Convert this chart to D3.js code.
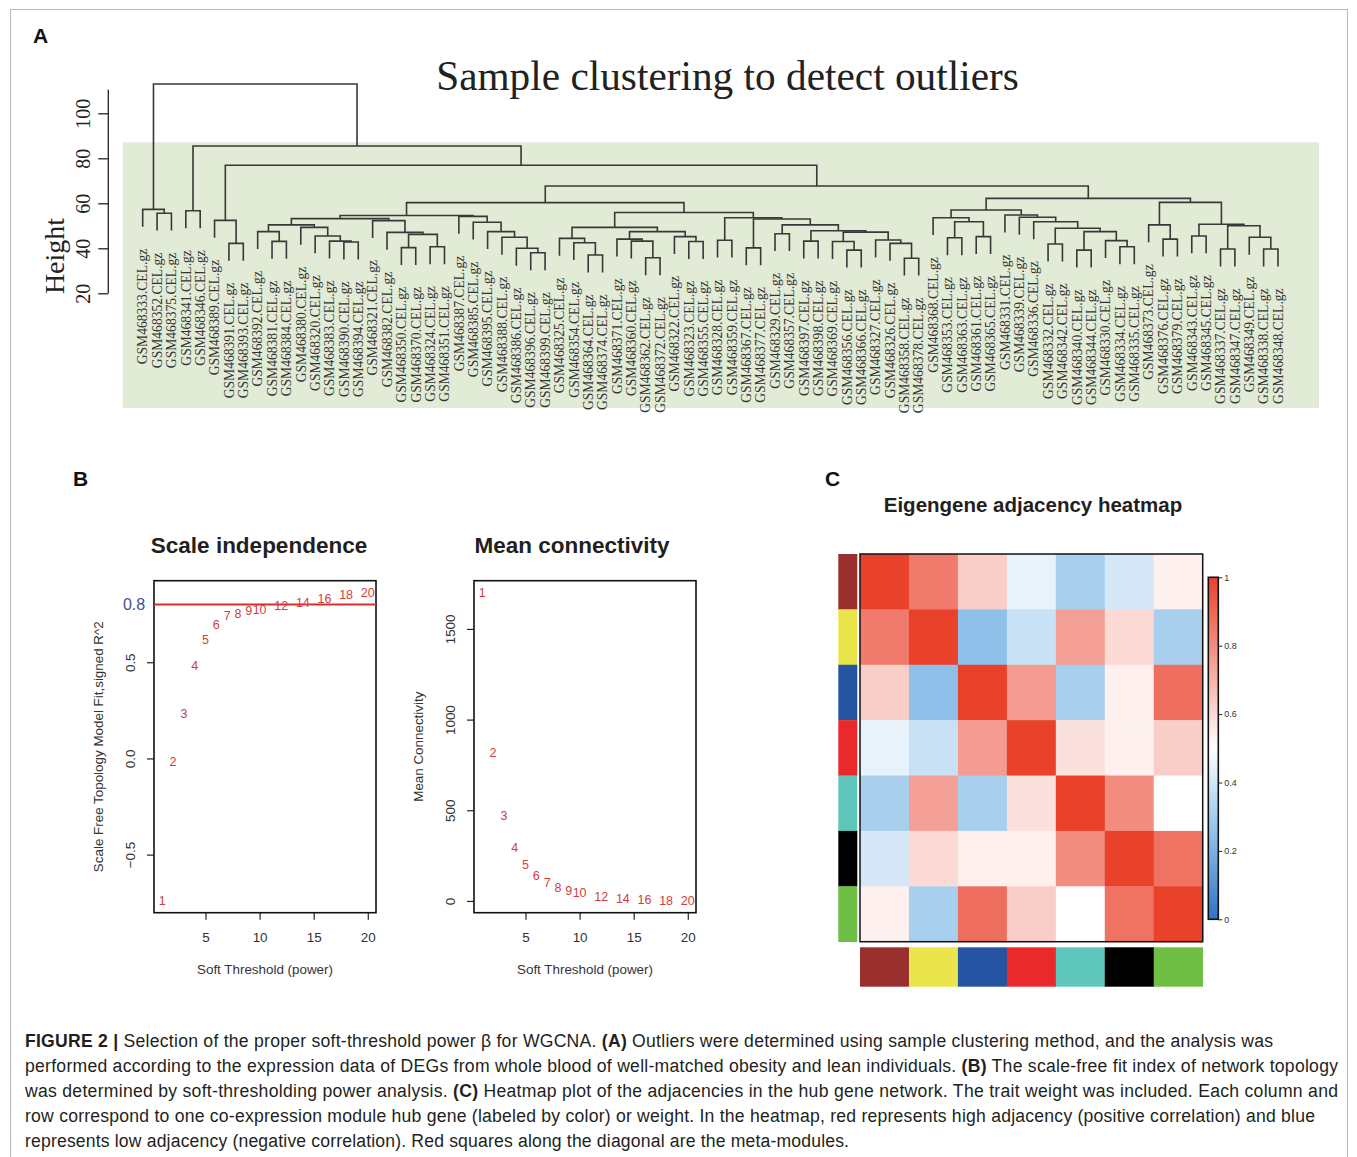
<!DOCTYPE html>
<meta charset="utf-8">
<script src="https://cdn.jsdelivr.net/npm/d3@7"></script>
<style>
body { margin: 0; background: #fff; }
svg text { font-family: "Liberation Sans", Arial, sans-serif; }
.serif { font-family: "Liberation Serif", "Times New Roman", serif; }
</style>
<body>
<script>

// ---------- A: sample clustering ----------
const sampleIds = [
  "GSM468333","GSM468352","GSM468375","GSM468341","GSM468346","GSM468389","GSM468391","GSM468393",
  "GSM468392","GSM468381","GSM468384","GSM468380","GSM468320","GSM468383","GSM468390","GSM468394",
  "GSM468321","GSM468382","GSM468350","GSM468370","GSM468324","GSM468351","GSM468387","GSM468385",
  "GSM468395","GSM468388","GSM468386","GSM468396","GSM468399","GSM468325","GSM468354","GSM468364",
  "GSM468374","GSM468371","GSM468360","GSM468362","GSM468372","GSM468322","GSM468323","GSM468355",
  "GSM468328","GSM468359","GSM468367","GSM468377","GSM468329","GSM468357","GSM468397","GSM468398",
  "GSM468369","GSM468356","GSM468366","GSM468327","GSM468326","GSM468358","GSM468378","GSM468368",
  "GSM468353","GSM468363","GSM468361","GSM468365","GSM468331","GSM468339","GSM468336","GSM468332",
  "GSM468342","GSM468340","GSM468344","GSM468330","GSM468334","GSM468335","GSM468373","GSM468376",
  "GSM468379","GSM468343","GSM468345","GSM468337","GSM468347","GSM468349","GSM468338","GSM468348"
].map(s => s + ".CEL.gz");

// merges written as [height, left, right]; plain numbers are indexes into sampleIds
const clusterA = [57.3, 0, [55.6, 1, 2]];
const clusterB = [56.7, 3, 4];
const clusterC = [52.4, 5, [42.2, 6, 7]];
const c8_15 = [50.4, [47.4, 8, [43.1, 9, 10]], [49.3, 11, [45.5, 12, [43.2, 13, [42.8, 14, 15]]]]];
const c16_21 = [52.3, 16, [47.1, 17, [46.2, [40.3, 18, 19], [40.7, 20, 21]]]];
const c22_28 = [54.2, 22, [51.6, 23, [47.4, 24, [44.9, 25, [40.0, 26, [38.0, 27, 28]]]]]];
const c29_39 = [49.3, [44.4, 29, [42.5, 30, [37.0, 31, 32]]],
                      [47.4, [44.1, 33, [43.2, 34, [35.8, 35, 36]]], [45.2, 37, [43.0, 38, 39]]]];
const c48_54 = [47.2, [43.0, 48, [39.2, 49, 50]], [43.7, 51, [42.2, 52, [35.6, 53, 54]]]];
const c40_54 = [53.6, [43.6, 40, 41], [53.0, [40.2, 42, 43], [50.4, [46.5, 44, 45], [47.8, [43.2, 46, 47], c48_54]]]];
const c55_69 = [57.0, [53.6, 55, [51.8, [44.7, 56, 57], [45.2, 58, 59]]],
                      [54.8, 60, [53.8, 61, [51.8, 62, [48.9, [41.9, 63, 64], [47.4, [39.2, 65, 66], [43.4, 67, [40.7, 68, 69]]]]]]]];
const c70_79 = [60.4, [50.4, 70, [44.1, 71, 72]], [50.7, [45.5, 73, 74], [50.0, [39.7, 75, 76], [44.9, 77, [39.7, 78, 79]]]]];

const sampleTree = [113.0, clusterA,
  [85.5, clusterB,
    [76.9, clusterC,
      [67.7,
        [60.3, [54.6, [53.2, c8_15, c16_21], c22_28], [55.9, c29_39, c40_54]],
        [62.2, c55_69, c70_79]]]]];

const heightTicks = [20, 40, 60, 80, 100];
const hangFrac = 7.74;

// ---------- B: soft threshold ----------
const powers = [1, 2, 3, 4, 5, 6, 7, 8, 9, 10, 12, 14, 16, 18, 20];
const scaleFitR2 = [-0.738, -0.019, 0.234, 0.48, 0.617, 0.697, 0.74, 0.752, 0.768, 0.775, 0.792, 0.808, 0.83, 0.849, 0.86];
const meanConnectivity = [1698, 820, 468, 294, 198, 141, 101, 74, 55, 46, 24, 15, 9, 4, 3];
const r2Cutoff = 0.8;

// ---------- C: eigengene adjacency ----------
const modules = ["brown", "yellow", "blue", "red", "turquoise", "black", "green"];
const moduleColors = ["#99302e", "#e9e54b", "#2554a3", "#ea2a2a", "#5ec6bb", "#000000", "#6fbf44"];
const adjacency = [
  [1.00, 0.85, 0.63, 0.45, 0.31, 0.41, 0.54],
  [0.85, 1.00, 0.25, 0.38, 0.75, 0.60, 0.31],
  [0.63, 0.25, 1.00, 0.76, 0.31, 0.54, 0.88],
  [0.45, 0.38, 0.76, 1.00, 0.58, 0.54, 0.63],
  [0.31, 0.75, 0.31, 0.58, 1.00, 0.80, 0.50],
  [0.41, 0.60, 0.54, 0.54, 0.80, 1.00, 0.87],
  [0.54, 0.31, 0.88, 0.63, 0.50, 0.87, 1.00]
];
const colorbarTicks = [0, 0.2, 0.4, 0.6, 0.8, 1];

const captionLines = [
  [["FIGURE 2 |", true], [" Selection of the proper soft-threshold power \u03b2 for WGCNA. ", false], ["(A)", true], [" Outliers were determined using sample clustering method, and the analysis was", false]],
  [["performed according to the expression data of DEGs from whole blood of well-matched obesity and lean individuals. ", false], ["(B)", true], [" The scale-free fit index of network topology", false]],
  [["was determined by soft-thresholding power analysis. ", false], ["(C)", true], [" Heatmap plot of the adjacencies in the hub gene network. The trait weight was included. Each column and", false]],
  [["row correspond to one co-expression module hub gene (labeled by color) or weight. In the heatmap, red represents high adjacency (positive correlation) and blue", false]],
  [["represents low adjacency (negative correlation). Red squares along the diagonal are the meta-modules.", false]]
];
const captionWidths = [1248, 1313, 1313, 1290, 824];

var W = 1357, H = 1157;

var svg = d3.select("body").append("svg")
    .attr("width", W)
    .attr("height", H);

svg.append("rect").attr("width", W).attr("height", H).attr("fill", "#fff");
svg.append("rect")
    .attr("x", 10.5).attr("y", 9.5).attr("width", 1337).attr("height", 1170)
    .attr("fill", "none").attr("stroke", "#b8b8b8");

// panel letters
[["A", 33, 43], ["B", 73, 486], ["C", 825, 486]].forEach(p => {
    svg.append("text").attr("x", p[1]).attr("y", p[2])
        .attr("font-size", 21).attr("font-weight", "bold").attr("fill", "#111")
        .text(p[0]);
});

// ================= A =================
var xLeaf = d3.scaleLinear().domain([0, sampleIds.length - 1]).range([142.7, 1278]);
var yH = d3.scaleLinear().domain([20, 100]).range([293.3, 113.3]);

// highlight band
svg.append("rect")
    .attr("x", 122.7).attr("y", yH(87.1))
    .attr("width", 1319 - 122.7).attr("height", 408 - yH(87.1))
    .attr("fill", "#e2ebd6");

svg.append("text").attr("class", "serif")
    .attr("x", 727.5).attr("y", 90)
    .attr("text-anchor", "middle")
    .attr("font-size", 41.3).attr("fill", "#222")
    .text("Sample clustering to detect outliers");

svg.append("text").attr("class", "serif")
    .attr("transform", "translate(64,256) rotate(-90)")
    .attr("text-anchor", "middle")
    .attr("font-size", 28).attr("fill", "#222")
    .text("Height");

var hAxis = svg.append("g")
    .attr("transform", "translate(108.3,0)")
    .call(d3.axisLeft(yH).tickValues(heightTicks).tickSize(10));
hAxis.select(".domain").remove();
hAxis.selectAll("line").attr("stroke", "#222").attr("stroke-width", 1.3);
hAxis.selectAll("text")
    .attr("class", "serif")
    .attr("transform", "rotate(-90)")
    .attr("x", 0).attr("y", -18).attr("dy", 0)
    .attr("text-anchor", "middle")
    .attr("font-size", 20).attr("fill", "#222");
svg.append("line")
    .attr("x1", 108.3).attr("x2", 108.3)
    .attr("y1", yH(20)).attr("y2", yH(110.5))
    .attr("stroke", "#222").attr("stroke-width", 1.3);

var root = d3.hierarchy(sampleTree, d => Array.isArray(d) ? d.slice(1) : null);
root.eachAfter(n => {
    if (n.children) {
        n.h = n.data[0];
        n.x = d3.mean(n.children, c => c.x);
    } else {
        n.x = xLeaf(n.data);
    }
});
root.leaves().forEach(l => { l.h = l.parent.data[0] - hangFrac; });

var dendro = svg.append("g");
dendro.selectAll("path")
    .data(root.descendants().filter(n => n.children))
    .enter().append("path")
    .attr("fill", "none")
    .attr("stroke", "#383838")
    .attr("stroke-width", 1.6)
    .attr("d", n => {
        var a = n.children[0], b = n.children[1];
        return "M" + a.x + "," + yH(a.h) + "V" + yH(n.h) + "H" + b.x + "V" + yH(b.h);
    });

dendro.selectAll("text")
    .data(root.leaves())
    .enter().append("text")
    .attr("class", "serif")
    .attr("transform", d => "translate(" + d.x + "," + (yH(d.h) + 22) + ") rotate(-90)")
    .attr("text-anchor", "end")
    .attr("dy", "0.35em")
    .attr("font-size", 13.6)
    .attr("fill", "#333")
    .text(d => sampleIds[d.data]);

// ================= B =================
function pad(ext) {
    var s = ext[1] - ext[0];
    return [ext[0] - 0.04 * s, ext[1] + 0.04 * s];
}

function thresholdPlot(left, values, yTicks, yFormat, yLabel, title, titleX) {
    var top = 580.7, bottom = 912.7, w = 222;
    var x = d3.scaleLinear().domain(pad(d3.extent(powers))).range([left, left + w]);
    var y = d3.scaleLinear().domain(pad(d3.extent(values))).range([bottom, top]);
    var g = svg.append("g");

    g.append("text")
        .attr("x", titleX).attr("y", 553)
        .attr("text-anchor", "middle")
        .attr("font-size", 22.5).attr("font-weight", "bold").attr("fill", "#231f20")
        .text(title);

    var xa = g.append("g")
        .attr("transform", "translate(0," + bottom + ")")
        .call(d3.axisBottom(x).tickValues([5, 10, 15, 20]).tickSize(7).tickPadding(13));
    var ya = g.append("g")
        .attr("transform", "translate(" + left + ",0)")
        .call(d3.axisLeft(y).tickValues(yTicks).tickSize(7).tickFormat(yFormat));
    [xa, ya].forEach(a => {
        a.select(".domain").remove();
        a.selectAll("line").attr("stroke", "#222").attr("stroke-width", 1.2);
        a.selectAll("text").attr("font-size", 13.4).attr("fill", "#333");
    });
    ya.selectAll("text")
        .attr("transform", "rotate(-90)")
        .attr("x", 0).attr("y", -19).attr("dy", 0)
        .attr("text-anchor", "middle");

    g.append("rect")
        .attr("x", left).attr("y", top).attr("width", w).attr("height", bottom - top)
        .attr("fill", "none").attr("stroke", "#111").attr("stroke-width", 1.6);

    g.append("text")
        .attr("x", left + w / 2).attr("y", 974)
        .attr("text-anchor", "middle")
        .attr("font-size", 13.4).attr("fill", "#333")
        .text("Soft Threshold (power)");

    g.append("text")
        .attr("transform", "translate(" + (left - 56) + "," + ((top + bottom) / 2) + ") rotate(-90)")
        .attr("text-anchor", "middle")
        .attr("dy", "0.35em")
        .attr("font-size", 13.4).attr("fill", "#333")
        .text(yLabel);

    return {g: g, x: x, y: y};
}

var fit = thresholdPlot(154, scaleFitR2, [-0.5, 0, 0.5],
    d => d === 0 ? "0.0" : d3.format(".1f")(d),
    "Scale Free Topology Model Fit,signed R^2", "Scale independence", 259);

fit.g.append("line")
    .attr("x1", 154).attr("x2", 376)
    .attr("y1", fit.y(r2Cutoff)).attr("y2", fit.y(r2Cutoff))
    .attr("stroke", "#d22f2f").attr("stroke-width", 2);
fit.g.append("text")
    .attr("x", 134).attr("y", fit.y(r2Cutoff))
    .attr("dy", "0.35em").attr("text-anchor", "middle")
    .attr("font-size", 16).attr("fill", "#3b4f9e")
    .text("0.8");

var conn = thresholdPlot(474, meanConnectivity, [0, 500, 1000, 1500],
    d => String(d), "Mean Connectivity", "Mean connectivity", 572);

[[fit, scaleFitR2], [conn, meanConnectivity]].forEach(pair => {
    var p = pair[0];
    p.g.selectAll(".pw")
        .data(powers)
        .enter().append("text")
        .attr("class", "pw")
        .attr("x", d => p.x(d))
        .attr("y", (d, i) => p.y(pair[1][i]))
        .attr("dy", "0.35em")
        .attr("text-anchor", "middle")
        .attr("font-size", 12.5)
        .attr("fill", "#d43c3c")
        .text(d => d);
});

// ================= C =================
svg.append("text")
    .attr("x", 1033).attr("y", 512)
    .attr("text-anchor", "middle")
    .attr("font-size", 20.5).attr("font-weight", "bold").attr("fill", "#231f20")
    .text("Eigengene adjacency heatmap");

var hx = d3.scaleBand().domain(d3.range(modules.length)).range([860, 1202.7]);
var hy = d3.scaleBand().domain(d3.range(modules.length)).range([554, 941.7]);
var adjColor = d3.scaleLinear()
    .domain([0, 0.25, 0.5, 0.75, 1])
    .range(["#2e74c4", "#8ec0e9", "#ffffff", "#f4a096", "#e9412a"]);

var cells = [];
adjacency.forEach((row, r) => row.forEach((v, c) => cells.push({r: r, c: c, v: v})));

svg.append("g").selectAll("rect")
    .data(cells)
    .enter().append("rect")
    .attr("x", d => hx(d.c))
    .attr("y", d => hy(d.r))
    .attr("width", hx.bandwidth() + 0.5)
    .attr("height", hy.bandwidth() + 0.5)
    .attr("fill", d => adjColor(d.v));

svg.append("rect")
    .attr("x", 860).attr("y", 554)
    .attr("width", 1202.7 - 860).attr("height", 941.7 - 554)
    .attr("fill", "none").attr("stroke", "#111").attr("stroke-width", 1.5);

// module colour bars
svg.append("g").selectAll("rect")
    .data(modules)
    .enter().append("rect")
    .attr("x", 838.3)
    .attr("y", (d, i) => hy(i))
    .attr("width", 19)
    .attr("height", hy.bandwidth() + 0.3)
    .attr("fill", (d, i) => moduleColors[i]);

svg.append("g").selectAll("rect")
    .data(modules)
    .enter().append("rect")
    .attr("x", (d, i) => hx(i))
    .attr("y", 947.3)
    .attr("width", hx.bandwidth() + 0.3)
    .attr("height", 39.4)
    .attr("fill", (d, i) => moduleColors[i]);

// colour key
var cb = d3.scaleLinear().domain([0, 1]).range([919.3, 577.3]);
var grad = svg.append("defs").append("linearGradient")
    .attr("id", "adjGrad")
    .attr("x1", 0).attr("y1", 1).attr("x2", 0).attr("y2", 0);
d3.range(0, 1.0001, 0.05).forEach(t => {
    grad.append("stop").attr("offset", t).attr("stop-color", adjColor(t));
});
svg.append("rect")
    .attr("x", 1208.3).attr("y", cb(1))
    .attr("width", 10).attr("height", cb(0) - cb(1))
    .attr("fill", "url(#adjGrad)")
    .attr("stroke", "#111").attr("stroke-width", 1.6);
var cbAxis = svg.append("g")
    .attr("transform", "translate(1218.3,0)")
    .call(d3.axisRight(cb).tickValues(colorbarTicks).tickSize(4).tickPadding(2)
        .tickFormat(d => d === 0 || d === 1 ? String(d) : d.toFixed(1)));
cbAxis.select(".domain").remove();
cbAxis.selectAll("line").attr("stroke", "#222");
cbAxis.selectAll("text").attr("font-size", 9).attr("fill", "#333");

// ================= caption =================
var cap = svg.append("g");
captionLines.forEach((line, i) => {
    var t = cap.append("text")
        .attr("x", 25).attr("y", 1047 + i * 25)
        .attr("font-size", 17.6).attr("fill", "#231f20")
        .attr("textLength", captionWidths[i])
        .attr("lengthAdjust", "spacing");
    line.forEach(seg => {
        t.append("tspan")
            .attr("font-weight", seg[1] ? "bold" : null)
            .text(seg[0]);
    });
});

</script>
</body>
